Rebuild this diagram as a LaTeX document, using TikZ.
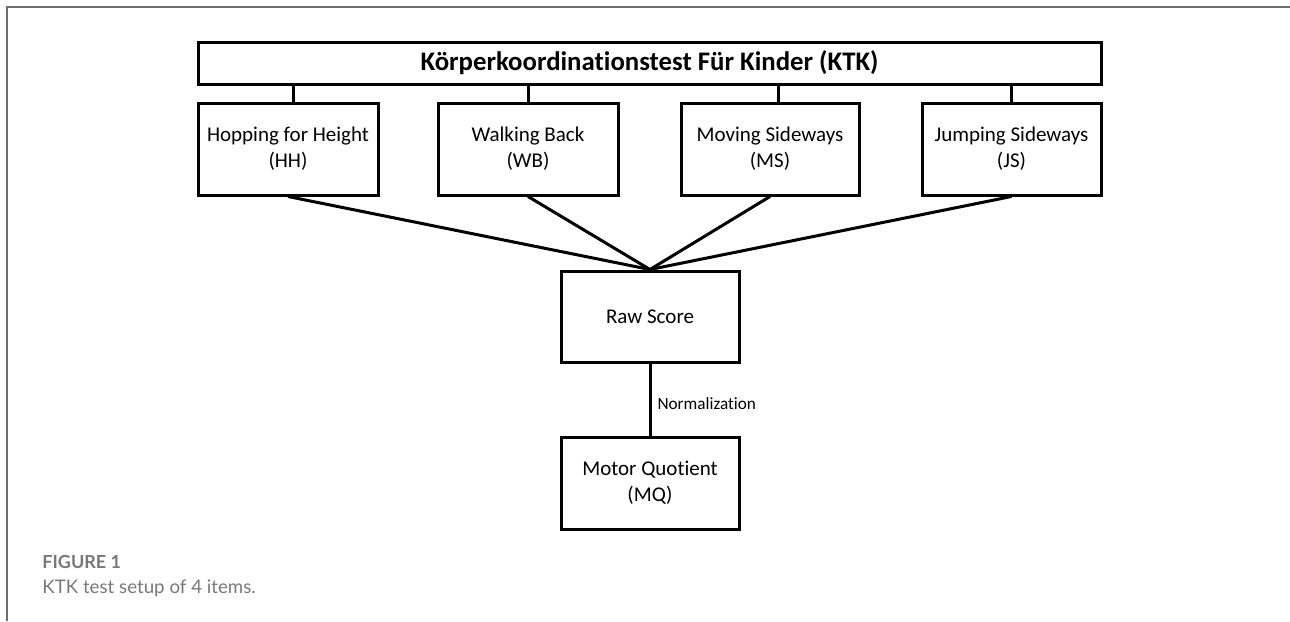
\documentclass[tikz,border=0pt]{standalone}
\usepackage{fontspec}
\setmainfont{Carlito}[Ligatures={NoCommon}]
\newfontfamily\capfont{Lato}
\definecolor{framegray}{RGB}{110, 110, 110}
\definecolor{capgray}{RGB}{120, 120, 120}

\begin{document}
\begin{tikzpicture}[x=0.5pt, y=-0.5pt,
                    box/.style={draw, line width=1.5pt, inner sep=0pt, align=center,
                                font=\fontsize{10.5}{13}\selectfont},
                    link/.style={line width=1.5pt}]
                    \useasboundingbox (0,0) rectangle (1290,621);
                    % frame of the figure
                    \draw[framegray, line width=0.75pt] (7,621) -- (7,7) -- (1290,7);
                    \node[box, minimum width=451.5pt, minimum height=21pt,
                          font=\fontsize{13.4}{15}\selectfont\bfseries] (ktk) at (649.5,63)
                          {Körperkoordinationstest Für Kinder (KTK)};
                    \node[box, minimum width=90pt, minimum height=46pt] (hh) at (288,149) {Hopping for Height\\(HH)};
                    \node[box, minimum width=90pt, minimum height=46pt] (wb) at (528,149) {Walking Back\\(WB)};
                    \node[box, minimum width=89pt, minimum height=46pt] (ms) at (770,149) {Moving Sideways\\(MS)};
                    \node[box, minimum width=89.5pt, minimum height=46pt] (js) at (1011.5,149) {Jumping Sideways\\(JS)};
                    \node[box, minimum width=89pt, minimum height=45.5pt] (raw) at (650,316.5) {Raw Score};
                    \node[box, minimum width=89pt, minimum height=46pt] (mq) at (650,483) {Motor Quotient\\(MQ)};
                    % items hang from the test
                    \draw[link] ([xshift=2.5pt]hh.north) -- ([xshift=2.5pt]hh.north |- ktk.south);
                    \draw[link] (wb.north) -- (wb.north |- ktk.south);
                    \draw[link] ([xshift=4pt]ms.north) -- ([xshift=4pt]ms.north |- ktk.south);
                    \draw[link] (js.north) -- (js.north |- ktk.south);
                    % items add up to the raw score
                    \foreach \item in {hh, wb, ms, js}
                        \draw[link] (\item.south) -- (raw.north);
                    \draw[link] (raw.south) -- (mq.north)
                        node[pos=0.55, right, inner sep=3pt, font=\fontsize{8.6}{10}\selectfont] (norm) {Normalization};
                    % caption
                    \node[anchor=base west, inner sep=0pt, text=capgray,
                          font=\capfont\bfseries\fontsize{9}{11}\selectfont] (figlabel) at (42,568) {FIGURE 1};
                    \node[anchor=base west, inner sep=0pt, text=capgray,
                          font=\capfont\fontsize{9.35}{12}\selectfont] (figtext) at (42,593) {KTK test setup of 4 items.};
                \end{tikzpicture}
\end{document}
